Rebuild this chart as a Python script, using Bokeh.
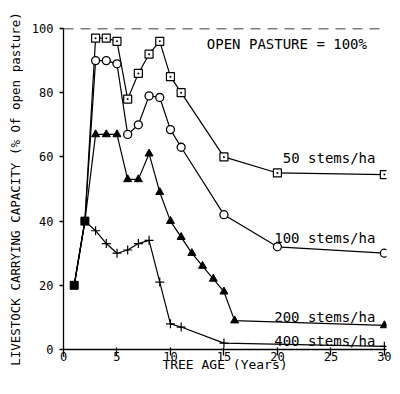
from bokeh.plotting import figure
from bokeh.models import Range1d, FixedTicker, Span, Label
from bokeh.embed import file_html
from bokeh.resources import INLINE

# ---- data ----
age_50 = [1, 2, 3, 4, 5, 6, 7, 8, 9, 10, 11, 15, 20, 30]
cap_50 = [20, 40, 97, 97, 96, 78, 86, 92, 96, 85, 80, 60, 55, 54.5]

age_100 = [1, 2, 3, 4, 5, 6, 7, 8, 9, 10, 11, 15, 20, 30]
cap_100 = [20, 40, 90, 90, 89, 67, 70, 79, 78.5, 68.5, 63, 42, 32, 30]

age_200 = [1, 2, 3, 4, 5, 6, 7, 8, 9, 10, 11, 12, 13, 14, 15, 16, 30]
cap_200 = [20, 40, 67, 67, 67, 53, 53, 61, 49, 40, 35, 30, 26, 22, 18, 9, 7.5]

age_400 = [1, 2, 3, 4, 5, 6, 7, 8, 9, 10, 11, 15, 30]
cap_400 = [20, 40, 37, 33, 30, 31, 33, 34, 21, 8, 7, 2, 1]

series_labels = ["50 stems/ha", "100 stems/ha", "200 stems/ha", "400 stems/ha"]
label_x = [20.5, 19.7, 19.7, 19.7]
label_y = [59.8, 34.6, 10.0, 2.6]

x_ticks = [0, 5, 10, 15, 20, 25, 30]
y_ticks = [0, 20, 40, 60, 80, 100]
open_pasture = 100

FONT = "DejaVu Sans Mono"

p = figure(width=398, height=392, output_backend="svg", toolbar_location=None,
           x_range=Range1d(0, 30.2), y_range=Range1d(0, 100),
           min_border_left=63, min_border_right=12, min_border_top=28,
           min_border_bottom=43)
p.outline_line_color = None
p.grid.visible = False
p.background_fill_color = "white"
p.border_fill_color = "white"

# axes
p.xaxis.ticker = FixedTicker(ticks=x_ticks)
p.yaxis.ticker = FixedTicker(ticks=y_ticks)
for ax in (p.xaxis, p.yaxis):
    ax.axis_line_color = "black"
    ax.axis_line_width = 1.3
    ax.major_tick_line_color = "black"
    ax.major_tick_line_width = 1.3
    ax.minor_tick_line_color = None
    ax.major_label_text_font = FONT
    ax.major_label_text_font_size = "12px"
    ax.major_label_text_color = "black"
    ax.axis_label_text_font = FONT
    ax.axis_label_text_font_style = "normal"
    ax.axis_label_text_color = "black"

p.xaxis.axis_label = "TREE AGE (Years)"
p.xaxis.axis_label_text_font_size = "13px"
p.xaxis.major_tick_in = 2
p.xaxis.major_tick_out = 6
p.xaxis.major_label_standoff = -4
p.xaxis.axis_label_standoff = -7

p.yaxis.axis_label = "LIVESTOCK CARRYING CAPACITY (% Of open pasture)"
p.yaxis.axis_label_text_font_size = "12.5px"
p.yaxis.major_tick_in = 0
p.yaxis.major_tick_out = 4
p.yaxis.major_label_standoff = 6
p.yaxis.axis_label_standoff = 6

# open pasture reference line
p.add_layout(Span(location=open_pasture, dimension="width", line_color="black",
                  line_width=1.3, line_dash="10 7"))

lw = 1.2
# lines
p.line(age_50, cap_50, line_color="black", line_width=lw)
p.line(age_100, cap_100, line_color="black", line_width=lw)
p.line(age_200, cap_200, line_color="black", line_width=lw)
p.line(age_400, cap_400, line_color="black", line_width=lw)

# markers
p.scatter(age_50[2:], cap_50[2:], marker="square_dot", size=8, line_color="black",
          fill_color="white", line_width=1.2)
p.scatter(age_100[2:], cap_100[2:], marker="circle", size=8, line_color="black",
          fill_color="white", line_width=1.3)
p.scatter(age_200[2:], cap_200[2:], marker="triangle", size=8, line_color="black",
          fill_color="black")
p.scatter(age_400[2:], cap_400[2:], marker="cross", size=9, line_color="black",
          line_width=1.2)
p.scatter(age_400[:2], cap_400[:2], marker="square", size=8, line_color="black",
          fill_color="black")

# series labels
for t, lx, ly in zip(series_labels, label_x, label_y):
    p.add_layout(Label(x=lx, y=ly, text=t, text_font=FONT, text_font_size="14px",
                       text_baseline="middle", text_align="left", text_color="black"))

p.add_layout(Label(x=13.4, y=95.3, text="OPEN PASTURE = 100%", text_font=FONT,
                   text_font_size="14px", text_baseline="middle", text_align="left",
                   text_color="black"))

open("out.html", "w").write(file_html(p, INLINE))
